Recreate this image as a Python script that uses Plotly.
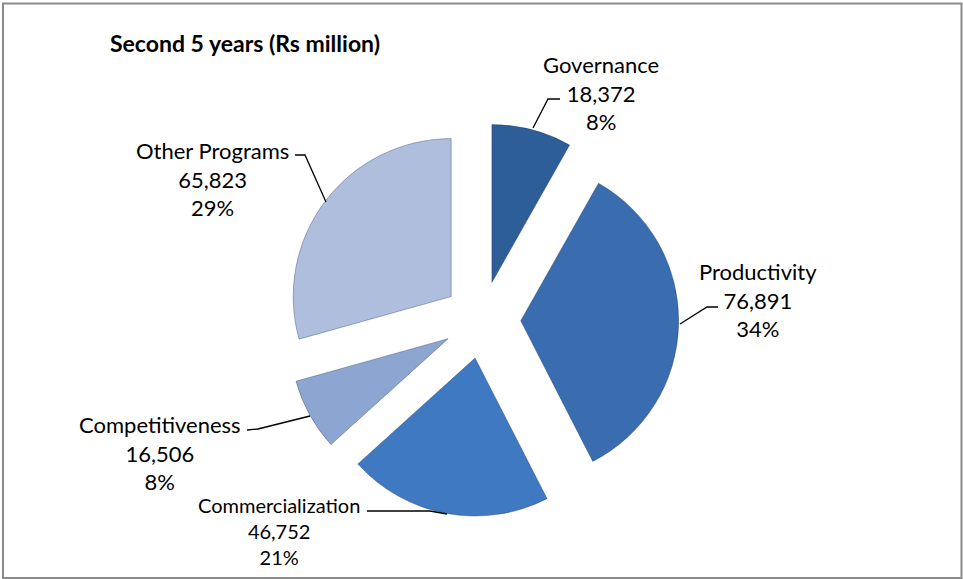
import plotly.graph_objects as go

# ---- data ----
categories = ["Governance", "Productivity", "Commercialization", "Competitiveness", "Other Programs"]
values = [18372, 76891, 46752, 16506, 65823]
pct_labels = ["8%", "34%", "21%", "8%", "29%"]
colors = ["#2E5E97", "#3A6DAF", "#3F79C1", "#8CA6D1", "#AEBEDC"]
title_text = "Second 5 years (Rs million)"

W, H = 963, 579


def px(x):
    return x / W


def py(y):
    return 1 - y / H


fig = go.Figure()
fig.add_trace(go.Pie(
    labels=categories,
    values=values,
    sort=False,
    direction="clockwise",
    rotation=0,
    pull=[0.245] * len(values),
    marker=dict(colors=colors, line=dict(color="rgba(30,50,90,0.35)", width=1)),
    textinfo="none",
    showlegend=False,
    domain=dict(x=[0.2963, 0.7048], y=[0.1076, 0.7871]),
))

# label placements (pixel centres) and leader lines
label_pos = {
    "Governance": (601, 93, 22),
    "Productivity": (758, 300, 22),
    "Commercialization": (279, 531, 20),
    "Competitiveness": (160, 453, 22),
    "Other Programs": (212, 179, 22),
}
leaders = {
    "Governance": [(533, 128), (548, 99), (560, 99)],
    "Productivity": [(680, 324), (707, 307), (718, 307)],
    "Commercialization": [(447, 514), (430, 511), (367, 511)],
    "Competitiveness": [(310, 416), (258, 429), (247, 430)],
    "Other Programs": [(326, 202), (305, 155), (295, 155)],
}

annotations = []
shapes = []
for cat, val, pct in zip(categories, values, pct_labels):
    x, y, fs = label_pos[cat]
    annotations.append(dict(
        text=f"{cat}<br>{val:,}<br>{pct}",
        x=px(x), y=py(y), xref="paper", yref="paper",
        xanchor="center", yanchor="middle", showarrow=False,
        font=dict(family="Lato", size=fs, color="#000000"),
    ))
    pts = leaders[cat]
    path = "M " + " L ".join(f"{px(a)},{py(b)}" for a, b in pts)
    shapes.append(dict(type="path", path=path, xref="paper", yref="paper",
                       line=dict(color="#000000", width=1.3)))

annotations.append(dict(
    text=f"<b>{title_text}</b>",
    x=px(108), y=py(43), xref="paper", yref="paper",
    xanchor="left", yanchor="middle", showarrow=False,
    font=dict(family="Lato", size=23, color="#000000"),
))

# outer chart border
shapes.append(dict(type="rect", xref="paper", yref="paper",
                   x0=px(3), y0=py(3.5), x1=px(961.5), y1=py(578),
                   line=dict(color="#8A8A8A", width=2), fillcolor="rgba(0,0,0,0)"))

fig.update_layout(
    width=W, height=H,
    margin=dict(l=0, r=0, t=0, b=0),
    paper_bgcolor="#FFFFFF",
    plot_bgcolor="#FFFFFF",
    annotations=annotations,
    shapes=shapes,
)

fig.write_html(
    "out.html",
    config={"displayModeBar": False},
    post_script="document.body.style.margin='0';document.body.style.padding='0';document.body.style.overflow='hidden';",
)
